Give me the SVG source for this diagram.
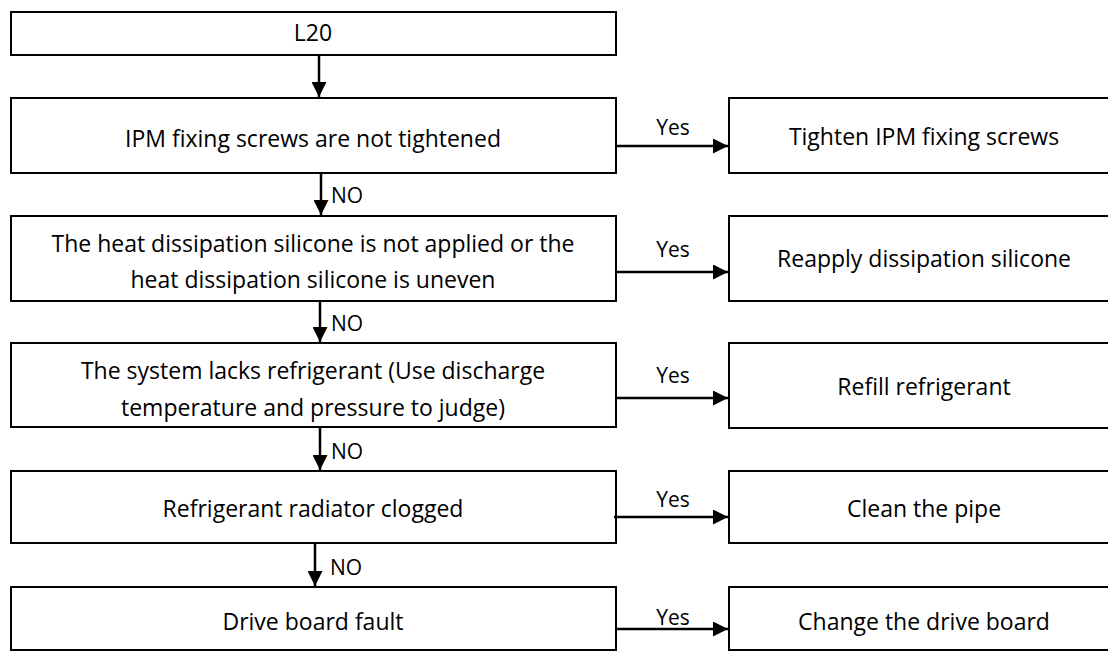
<svg xmlns="http://www.w3.org/2000/svg" width="1108" height="652" viewBox="0 0 1108 652">
<defs>
<style>
.box{fill:#fff;stroke:#000;stroke-width:2}
.t{font-family:"Open Sans","Noto Sans",sans-serif;font-size:23px;fill:#000;text-anchor:middle}
.lbl{font-family:"Open Sans","Noto Sans",sans-serif;font-size:21px;fill:#000}
.c{stroke:#000;stroke-width:2.5;fill:none}
</style>
<marker id="ah" viewBox="0 0 10 10" refX="10" refY="5" markerWidth="16" markerHeight="15" markerUnits="userSpaceOnUse" orient="auto">
<path d="M0,0 L10,5 L0,10 Z" fill="#000"/>
</marker>
</defs>
<rect width="1108" height="652" fill="#fff"/>
<g id="n-l20"><rect class="box" x="11" y="12" width="605" height="43"/><text class="t" x="313" y="41">L20</text></g>
<g id="n-ipm"><rect class="box" x="11" y="98" width="605" height="75"/><text class="t" x="313" y="147">IPM fixing screws are not tightened</text></g>
<g id="n-tighten"><rect class="box" x="729" y="98" width="390" height="75"/><text class="t" x="924" y="145">Tighten IPM fixing screws</text></g>
<g id="n-heat"><rect class="box" x="11" y="216" width="605" height="85"/><text class="t" x="313" y="252">The heat dissipation silicone is not applied or the</text><text class="t" x="313" y="288">heat dissipation silicone is uneven</text></g>
<g id="n-reapply"><rect class="box" x="729" y="216" width="390" height="85"/><text class="t" x="924" y="267">Reapply dissipation silicone</text></g>
<g id="n-system"><rect class="box" x="11" y="343" width="605" height="84"/><text class="t" x="313" y="379">The system lacks refrigerant (Use discharge</text><text class="t" x="313" y="416">temperature and pressure to judge)</text></g>
<g id="n-refill"><rect class="box" x="729" y="343" width="390" height="85"/><text class="t" x="924" y="395">Refill refrigerant</text></g>
<g id="n-radiator"><rect class="box" x="11" y="471" width="605" height="72"/><text class="t" x="313" y="517">Refrigerant radiator clogged</text></g>
<g id="n-clean"><rect class="box" x="729" y="471" width="390" height="72"/><text class="t" x="924" y="517">Clean the pipe</text></g>
<g id="n-drive"><rect class="box" x="11" y="587" width="605" height="63"/><text class="t" x="313" y="630">Drive board fault</text></g>
<g id="n-change"><rect class="box" x="729" y="587" width="390" height="63"/><text class="t" x="924" y="630">Change the drive board</text></g>
<g id="connectors">
<line class="c" x1="319" y1="55" x2="319" y2="97" marker-end="url(#ah)"/>
<line class="c" x1="321" y1="173" x2="321" y2="215" marker-end="url(#ah)"/>
<line class="c" x1="320" y1="301" x2="320" y2="342" marker-end="url(#ah)"/>
<line class="c" x1="320" y1="427" x2="320" y2="470" marker-end="url(#ah)"/>
<line class="c" x1="315" y1="543" x2="315" y2="586" marker-end="url(#ah)"/>
<line class="c" x1="617" y1="146" x2="728" y2="146" marker-end="url(#ah)"/>
<line class="c" x1="617" y1="272" x2="728" y2="272" marker-end="url(#ah)"/>
<line class="c" x1="617" y1="398" x2="728" y2="398" marker-end="url(#ah)"/>
<line class="c" x1="614" y1="517" x2="728" y2="517" marker-end="url(#ah)"/>
<line class="c" x1="617" y1="629" x2="728" y2="629" marker-end="url(#ah)"/>
<text class="lbl" x="331" y="203">NO</text>
<text class="lbl" x="331" y="331">NO</text>
<text class="lbl" x="331" y="459">NO</text>
<text class="lbl" x="330" y="575">NO</text>
<text class="lbl" x="673" y="135" text-anchor="middle">Yes</text>
<text class="lbl" x="673" y="257" text-anchor="middle">Yes</text>
<text class="lbl" x="673" y="383" text-anchor="middle">Yes</text>
<text class="lbl" x="673" y="507" text-anchor="middle">Yes</text>
<text class="lbl" x="673" y="625" text-anchor="middle">Yes</text>
</g>
</svg>
